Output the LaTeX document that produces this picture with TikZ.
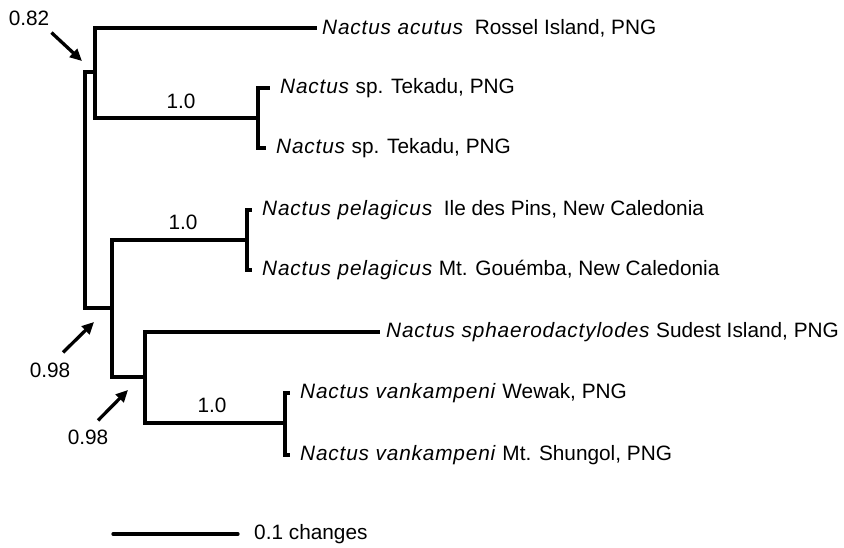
\documentclass[tikz,border=0pt]{standalone}
\usepackage{fontspec}
\setmainfont{Liberation Sans}[ItalicFeatures={LetterSpace=4}]
\usetikzlibrary{arrows.meta,positioning}
\tikzset{
	branch/.style={line width=3.3pt,line cap=rect},
	taxon/.style={inner sep=0pt,anchor=west,font=\fontsize{20.8}{25}\selectfont},
	support/.style={inner sep=0pt,font=\fontsize{20.8}{25}\selectfont},
	pointer/.style={line width=3.3pt,-{Triangle[length=12pt,width=11pt]}}
}
\begin{document}
\begin{tikzpicture}[x=1pt,y=-1pt]
	\useasboundingbox (0,0) rectangle (844,547);
	% internal nodes
	\coordinate (root) at (85,190);
	\coordinate (n82) at (95,72);
	\coordinate (tek) at (258,118);
	\coordinate (n98a) at (112,308);
	\coordinate (pel) at (247,240);
	\coordinate (n98b) at (145,377);
	\coordinate (van) at (285,423);
	% tips
	\coordinate (acutT) at (315,28);
	\coordinate (tekT1) at (268,88);
	\coordinate (tekT2) at (264,148);
	\coordinate (pelT1) at (250,210);
	\coordinate (pelT2) at (250,270);
	\coordinate (sphT) at (378,332);
	\coordinate (vanT1) at (288,393);
	\coordinate (vanT2) at (288,455);
	\draw[branch] (root) |- (n82) (root) |- (n98a);
	\draw[branch] (n82) |- (acutT) (n82) |- (tek);
	\draw[branch] (tek) |- (tekT1) (tek) |- (tekT2);
	\draw[branch] (n98a) |- (pel) (n98a) |- (n98b);
	\draw[branch] (pel) |- (pelT1) (pel) |- (pelT2);
	\draw[branch] (n98b) |- (sphT) (n98b) |- (van);
	\draw[branch] (van) |- (vanT1) (van) |- (vanT2);
	\node[taxon,right=7pt of acutT] (acut) {\textit{Nactus acutus}\hspace{5pt} Rossel Island, PNG};
	\node[taxon,right=12pt of tekT1] (tek1) {\textit{Nactus} sp. Tekadu, PNG};
	\node[taxon,right=12pt of tekT2] (tek2) {\textit{Nactus} sp. Tekadu, PNG};
	\node[taxon,right=12pt of pelT1] (pel1) {\textit{Nactus pelagicus}\hspace{5pt} Ile des Pins, New Caledonia};
	\node[taxon,right=12pt of pelT2] (pel2) {\textit{Nactus pelagicus} Mt. Gouémba, New Caledonia};
	\node[taxon,right=8pt of sphT] (sph) {\textit{Nactus sphaerodactylodes} Sudest Island, PNG};
	\node[taxon,right=12pt of vanT1] (van1) {\textit{Nactus vankampeni} Wewak, PNG};
	\node[taxon,right=12pt of vanT2] (van2) {\textit{Nactus vankampeni} Mt. Shungol, PNG};
	% support values
	\node[support] (b82) at (29,18) {0.82};
	\node[support] (b98a) at (50,370) {0.98};
	\node[support] (b98b) at (88,437) {0.98};
	\node[support] (s1) at (181,101) {1.0};
	\node[support] (s2) at (183,222) {1.0};
	\node[support] (s3) at (212,405) {1.0};
	\coordinate (a82) at (82,61);
	\coordinate (a98a) at (94,322);
	\coordinate (a98b) at (128,390);
	\draw[pointer] ([xshift=2pt,yshift=-7pt]b82.south east) -- (a82);
	\draw[pointer] ([xshift=13pt,yshift=10pt]b98a.north) -- (a98a);
	\draw[pointer] ([xshift=10pt,yshift=9pt]b98b.north) -- (a98b);
	% scale bar
	\coordinate (sb1) at (113,534);
	\coordinate (sb2) at (238,534);
	\draw[branch,line cap=round] (sb1) -- (sb2);
	\node[taxon,right=16pt of sb2] (sblab) {0.1 changes};
\end{tikzpicture}
\end{document}
